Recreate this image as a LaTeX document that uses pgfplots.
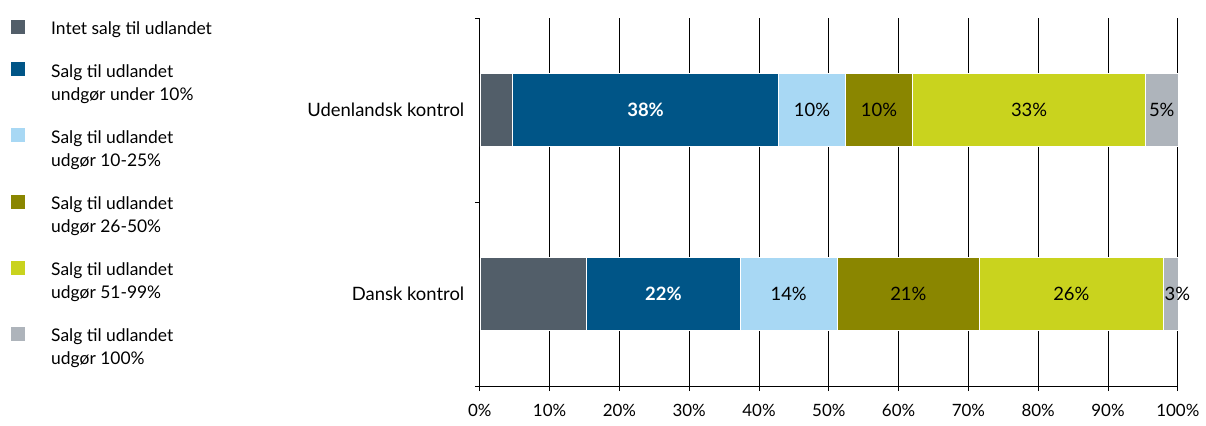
\documentclass[border=0pt]{standalone}
\usepackage{fontspec}
\setmainfont{Lato}
\usepackage{pgfplots}
\usepackage{pgfplotstable}
\pgfplotsset{compat=1.18}
\definecolor{cA}{HTML}{525E69}
\definecolor{cB}{HTML}{005587}
\definecolor{cC}{HTML}{A8D8F4}
\definecolor{cD}{HTML}{8A8600}
\definecolor{cE}{HTML}{C9D31E}
\definecolor{cF}{HTML}{AEB4BB}
\pgfplotstableread{
y   a    b    c    d    e    f   lb lc ld le lf
0.5 15.3 22.0 13.9 20.4 26.3 2.1 22 14 21 26 3
1.5 4.7  38.1 9.6  9.6  33.4 4.6 38 10 10 33 5
}\data
\newcommand{\lblfont}{\fontsize{17.5}{23}\selectfont}
\newcommand{\catfont}{\fontsize{18.5}{23}\selectfont}
\pgfplotsset{
  sq/.style={legend image code/.code={\fill[##1,draw=none] (0bp,#1) rectangle ++(14bp,14bp);}},
  lbl/.style={nodes near coords={\pgfplotspointmeta\%}, point meta=explicit symbolic,
    every node near coord/.append style={text=#1}},
}
\begin{document}
\begin{tikzpicture}
\path[use as bounding box] (0,0) rectangle (1206bp,426bp);
\begin{axis}[
  at={(479.8bp,40bp)}, anchor=south west,
  x=6.98bp, y=183.85bp,
  xmin=0, xmax=100, ymin=0, ymax=2,
  xbar stacked, bar width=73bp,
  axis x line*=bottom, axis y line*=left,
  axis line style={black, line width=0.9bp},
  xtick={0,10,...,100},
  xticklabel={\pgfmathprintnumber{\tick}\%},
  /pgf/number format/assume math mode=true,
  xmajorgrids, major grid style={black, line width=0.9bp},
  ytick={0,1,2}, yticklabels={},
  extra y ticks={0.5,1.5},
  extra y tick labels={Dansk kontrol, Udenlandsk kontrol},
  extra y tick style={major tick length=0pt, yticklabel style={xshift=-12bp}},
  tick align=outside, major tick length=5bp,
  tick style={black, line width=0.9bp},
  xticklabel style={font=\fontsize{17}{20}\selectfont, yshift=-10bp},
  yticklabel style={font=\catfont},
  legend cell align=left,
  legend style={at={(-0.6716,0.997)}, anchor=north west, draw=none, fill=none,
    font=\lblfont, inner sep=0pt, row sep=26.5bp, column sep=26bp,
    cells={align=left}, nodes={inner sep=0pt}},
  every node near coord/.append style={font=\catfont, anchor=center},
]
\addplot[fill=cA, draw=white, line width=0.5bp, sq=-5bp]
  table[x=a, y=y]{\data};
\addlegendentry{Intet salg til udlandet}
\addplot[fill=cB, draw=white, line width=0.5bp, sq=7bp, lbl=white,
  every node near coord/.append style={font=\catfont\bfseries}]
  table[x=b, y=y, meta=lb]{\data};
\addlegendentry{Salg til udlandet\\undgør under 10\%}
\addplot[fill=cC, draw=white, line width=0.5bp, sq=7bp, lbl=black]
  table[x=c, y=y, meta=lc]{\data};
\addlegendentry{Salg til udlandet\\udgør 10-25\%}
\addplot[fill=cD, draw=white, line width=0.5bp, sq=7bp, lbl=black]
  table[x=d, y=y, meta=ld]{\data};
\addlegendentry{Salg til udlandet\\udgør 26-50\%}
\addplot[fill=cE, draw=white, line width=0.5bp, sq=7bp, lbl=black]
  table[x=e, y=y, meta=le]{\data};
\addlegendentry{Salg til udlandet\\udgør 51-99\%}
\addplot[fill=cF, draw=white, line width=0.5bp, sq=7bp, lbl=black,
  visualization depends on=y \as \yy,
  every node near coord/.append style={xshift={(\yy<1)*7bp}}]
  table[x=f, y=y, meta=lf]{\data};
\addlegendentry{Salg til udlandet\\udgør 100\%}
\end{axis}
\end{tikzpicture}
\end{document}
